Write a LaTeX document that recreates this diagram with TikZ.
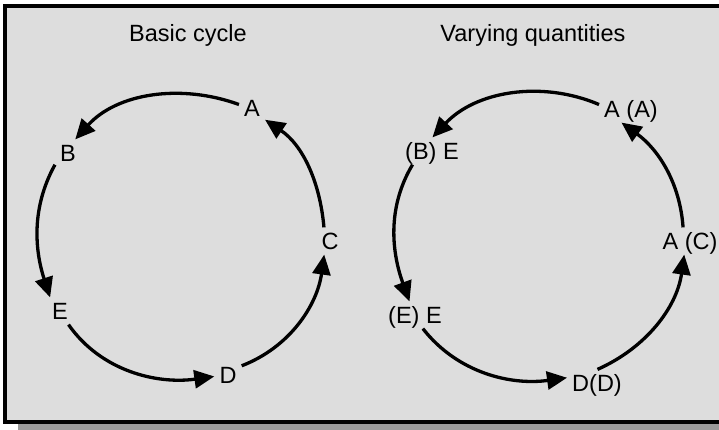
\documentclass[tikz,border=0pt]{standalone}
\usepackage{fontspec}
\setmainfont{Liberation Sans}
\usetikzlibrary{arrows.meta}
\definecolor{panelGray}{RGB}{221,221,221}
\definecolor{shadowGray}{RGB}{153,153,153}

\begin{document}
\begin{tikzpicture}[x=1pt,y=1pt,
    lbl/.style={inner sep=5pt,text height=16.8pt,text depth=0pt,font=\fontsize{23.5}{28}\selectfont},
    arc/.style={line width=3.3pt,looseness=0.95,-{Triangle[length=20pt,width=18pt]}}]
  \useasboundingbox (0,0) rectangle (719,429);
  \clip (0,0) rectangle (719,429);
  % frame and shadow
  \fill[shadowGray] (18,-20) rectangle (760,410);
  \draw[line width=3.7pt,fill=panelGray] (5,7) rectangle (750,423);
  % basic cycle
  \node[lbl] (t1) at (188,396) {Basic cycle};
  \node[lbl] (A) at (252,321) {A};
  \node[lbl] (B) at (68,276) {B};
  \node[lbl] (C) at (330,188) {C};
  \node[lbl] (E) at (60,118) {E};
  \node[lbl] (D) at (228,54) {D};
  \draw[arc] (A.165) to[out=160,in=48] (B.62);
  \draw[arc] (B.222) to[out=241,in=108] (E.126);
  \draw[arc] (E.302) to[out=305,in=188] (D.186);
  \draw[arc] (D.34) to[out=21,in=262] (C.247);
  \draw[arc] (C.114) to[out=95,in=326] (A.318);
  % varying quantities
  \node[lbl] (t2) at (533,396) {Varying quantities};
  \node[lbl] (vA) at (631,320) {A (A)};
  \node[lbl] (vB) at (432,278) {(B) E};
  \node[lbl] (vC) at (690,188) {A (C)};
  \node[lbl] (vE) at (415,114) {(E) E};
  \node[lbl] (vD) at (597,46) {D(D)};
  \draw[arc] (vA.172) to[out=157,in=47] (vB.88);
  \draw[arc] (vB.215) to[out=239,in=110] (vE.112);
  \draw[arc] (vE.300) to[out=308,in=188] (vD.170);
  \draw[arc] (vD.88) to[out=24,in=262] (vC.247);
  \draw[arc] (vC.117) to[out=94,in=324] (vA.235);
\end{tikzpicture}
\end{document}
